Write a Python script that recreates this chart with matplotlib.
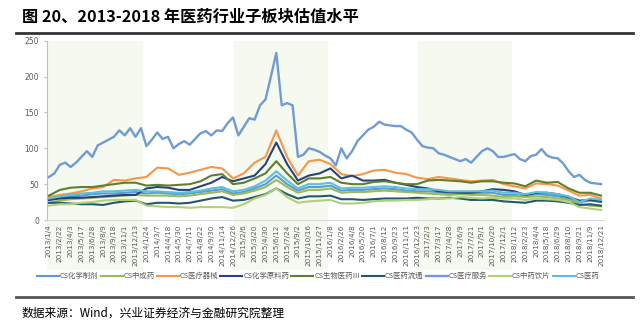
import matplotlib
matplotlib.use('Agg')
import numpy as np
import matplotlib.pyplot as plt

plt.rcParams['font.family'] = ['Noto Sans CJK SC', 'DejaVu Sans']

tick_labels = ['2013/1/4', '2013/2/22', '2013/4/3', '2013/5/17', '2013/6/28', '2013/8/9', '2013/9/18', '2013/11/1',
               '2013/12/13', '2014/1/24', '2014/3/7', '2014/4/18', '2014/5/30', '2014/7/11', '2014/8/22', '2014/9/30',
               '2014/11/14', '2014/12/26', '2015/2/6', '2015/3/20', '2015/4/30', '2015/6/12', '2015/7/24', '2015/9/2',
               '2015/10/16', '2015/11/27', '2016/1/8', '2016/2/26', '2016/4/8', '2016/5/20', '2016/7/1', '2016/8/12',
               '2016/9/23', '2016/11/11', '2016/12/23', '2017/2/3', '2017/3/17', '2017/4/28', '2017/6/9', '2017/7/21',
               '2017/9/1', '2017/10/20', '2017/12/1', '2018/1/12', '2018/2/23', '2018/4/4', '2018/5/18', '2018/6/29',
               '2018/8/10', '2018/9/21', '2018/11/9', '2018/12/21']

# shaded years (2013, 2015, 2017) as start/end in tick-index units
shade_start = [-0.2, 17.1, 34.1]
shade_end = [8.7, 25.8, 42.8]

# values sampled at every tick
chem_prep = [28, 31, 33, 34, 36, 37, 37, 38, 39, 37, 38, 37, 36, 37, 39, 41, 43, 37, 39, 44, 50, 62, 50, 41, 46, 46,
             48, 41, 42, 42, 43, 44, 43, 41, 40, 40, 39, 37, 37, 37, 38, 38, 35, 35, 33, 36, 35, 33, 30, 25, 27, 25]
tcm = [24, 27, 29, 30, 31, 32, 33, 34, 35, 34, 34, 34, 33, 34, 36, 38, 40, 35, 37, 41, 46, 56, 46, 38, 42, 42,
       44, 38, 39, 39, 40, 41, 40, 39, 38, 37, 36, 35, 36, 35, 35, 34, 32, 33, 32, 33, 32, 30, 28, 22, 20, 19]
devices = [32, 35, 37, 40, 44, 46, 56, 55, 58, 60, 73, 72, 63, 66, 70, 74, 72, 58, 65, 80, 88, 125, 88, 62, 82, 84,
           78, 64, 61, 64, 69, 70, 66, 64, 59, 57, 60, 58, 56, 54, 55, 56, 50, 47, 44, 51, 50, 48, 41, 34, 35, 30]
api = [28, 30, 31, 31, 32, 33, 34, 35, 35, 44, 46, 45, 42, 42, 47, 52, 60, 54, 58, 62, 78, 108, 78, 55, 62, 65,
       72, 58, 62, 55, 55, 56, 52, 49, 46, 44, 40, 39, 38, 38, 40, 43, 42, 40, 35, 38, 38, 36, 32, 27, 28, 26]
biomed = [34, 42, 45, 46, 46, 48, 50, 52, 52, 48, 49, 48, 49, 50, 54, 62, 64, 50, 52, 58, 65, 82, 65, 50, 58, 58,
          60, 52, 50, 50, 53, 54, 52, 50, 50, 55, 56, 55, 54, 52, 54, 54, 52, 51, 47, 55, 52, 53, 44, 38, 38, 34]
distrib = [24, 24, 23, 22, 22, 21, 24, 26, 27, 22, 24, 24, 23, 24, 27, 30, 32, 27, 28, 32, 36, 44, 36, 30, 33, 33,
           34, 29, 29, 28, 29, 30, 30, 30, 31, 30, 30, 31, 30, 28, 28, 28, 26, 25, 24, 27, 27, 26, 24, 21, 22, 20]
pieces = [20, 22, 22, 24, 25, 27, 28, 28, 28, 20, 19, 18, 18, 17, 18, 18, 18, 17, 22, 30, 35, 44, 32, 24, 26, 27,
          28, 23, 23, 24, 26, 27, 27, 28, 28, 29, 30, 30, 32, 31, 30, 31, 30, 30, 28, 30, 29, 28, 25, 18, 16, 14]
pharma = [30, 33, 35, 37, 38, 40, 40, 41, 42, 40, 40, 39, 38, 39, 41, 44, 46, 40, 42, 47, 55, 68, 55, 44, 50, 50,
          52, 44, 45, 45, 46, 47, 46, 44, 43, 43, 42, 40, 40, 40, 40, 41, 38, 38, 36, 39, 38, 36, 33, 25, 30, 28]

# medical services sampled every half tick
services = [60, 65, 77, 80, 74, 80, 88, 96, 88, 104, 108, 112, 116, 125, 118, 128, 116, 128, 103, 112, 122, 113, 116,
            100, 106, 110, 105, 113, 121, 124, 118, 125, 124, 135, 143, 118, 130, 142, 140, 160, 168, 200, 233, 160,
            163, 160, 88, 91, 100, 98, 95, 90, 86, 76, 100, 86, 96, 110, 118, 126, 130, 137, 133, 132, 131, 131, 126,
            122, 112, 103, 101, 100, 93, 91, 88, 85, 82, 85, 80, 88, 96, 100, 96, 88, 88, 90, 92, 85, 82, 89, 91, 99,
            90, 87, 86, 79, 68, 60, 63, 56, 52, 51, 50]

names = ['CS化学制剂', 'CS中成药', 'CS医疗器械', 'CS化学原料药', 'CS生物医药Ⅲ', 'CS医药流通', 'CS医疗服务', 'CS中药饮片', 'CS医药']
colors = ['#5B9BD5', '#9BBB59', '#F79646', '#264478', '#5E7F2C', '#23596B', '#6F9CD4', '#B2D07A', '#5BC0DE']


def main():
    series = [chem_prep, tcm, devices, api, biomed, distrib, services, pieces, pharma]
    fig = plt.figure(figsize=(6.43, 3.30), dpi=100)
    ax = fig.add_axes([0.0728, 0.3333, 0.867, 0.5433])
    for start, end in zip(shade_start, shade_end):
        ax.axvspan(start, end, ymin=-0.28, ymax=1, color='#F6F9EF', zorder=0, clip_on=False, lw=0)
    for name, values, color in zip(names, series, colors):
        step = 51 / (len(values) - 1)
        x = np.arange(len(values)) * step
        ax.plot(x, values, color=color, linewidth=1.7 if name == 'CS医疗服务' else 1.5, label=name, zorder=3)
    ax.set_xlim(-0.2, 51.3)
    ax.set_ylim(0, 250)
    ax.set_yticks(range(0, 251, 50))
    ax.set_xticks(range(len(tick_labels)))
    ax.set_xticklabels(tick_labels, rotation=90, fontsize=5.2, color='#595959', family='DejaVu Sans')
    ax.tick_params(axis='y', labelsize=5.5, labelcolor='#595959', length=2, color='#BFBFBF')
    ax.tick_params(axis='x', length=0, pad=3)
    for label in ax.get_yticklabels():
        label.set_family('DejaVu Sans')
    ax.spines['top'].set_visible(False)
    ax.spines['right'].set_visible(False)
    ax.spines['left'].set_color('#BFBFBF')
    ax.spines['bottom'].set_color('#D9D9D9')
    ax.set_facecolor('none')
    fig.legend(loc='center', bbox_to_anchor=(0.495, 0.163), ncol=9, fontsize=5.3, frameon=False,
               handlelength=3.0, handletextpad=0.1, columnspacing=0.3, labelcolor='#595959')
    fig.text(0.034, 0.948, '图 20、2013-2018 年医药行业子板块估值水平', fontsize=11.7, fontweight='bold', va='center')
    fig.add_artist(plt.Line2D([0.025, 0.985], [0.9, 0.9], color='#333333', linewidth=2))
    fig.add_artist(plt.Line2D([0.025, 0.985], [0.1, 0.1], color='#555555', linewidth=2))
    fig.text(0.034, 0.052, '数据来源：Wind，兴业证券经济与金融研究院整理', fontsize=8.5, va='center')
    fig.savefig('out.png', dpi=100)
    plt.close(fig)


if __name__ == '__main__':
    main()
